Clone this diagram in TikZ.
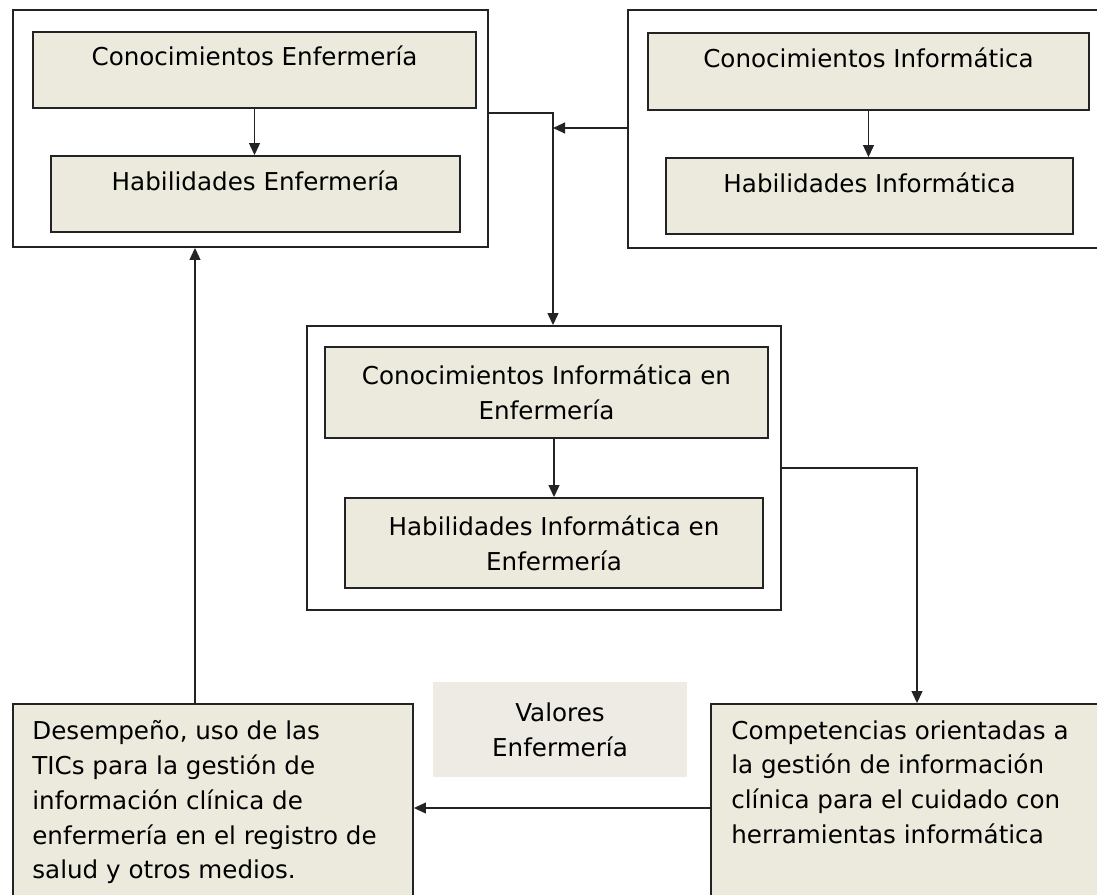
\documentclass[tikz,border=0pt]{standalone}
\usepackage{fontspec}
\setmainfont{DejaVu Sans}
\usepackage{xcolor}
\usepackage{tikz}
\usetikzlibrary{arrows.meta, positioning, calc}
\definecolor{boxfill}{RGB}{236,234,220}
\definecolor{valfill}{RGB}{237,235,227}
\definecolor{edge}{RGB}{35,35,35}

\begin{document}
\begin{tikzpicture}[
    outer/.style={rectangle, draw=edge, line width=1.3pt, fill=white},
    inbox/.style={rectangle, draw=edge, line width=1.3pt, fill=boxfill, align=center, font=\fontsize{17.5}{24.8}\selectfont},
    onerow/.style={inbox, text height=0.47cm, text depth=0.67cm},
    bigbox/.style={rectangle, draw=edge, line width=1.3pt, fill=boxfill, minimum width=#1, minimum height=5.2cm},
    boxtext/.style={anchor=north west, inner sep=0pt, align=left, font=\fontsize{17.5}{24.8}\selectfont},
    arrow/.style={-{Triangle[length=0.3cm, width=0.27cm]}, draw=edge, line width=1.2pt}
]
\useasboundingbox (0,0) rectangle (27.425,-22.375);
\fill[white] (0,0) rectangle (27.425,-22.375);
\clip (0,0) rectangle (27.425,-22.375);

% Enfermeria
\node[outer, minimum width=11.875cm, minimum height=5.925cm] (outA) at (6.2625,-3.2125) {};
\node[onerow, minimum width=11.075cm, minimum height=1.9cm] (ce) at (6.3625,-1.75) {Conocimientos Enfermería};
\node[onerow, minimum width=10.225cm, minimum height=1.9cm] (he) at (6.3875,-4.85) {Habilidades Enfermería};

% Informatica
\node[outer, minimum width=11.8cm, minimum height=5.95cm] (outB) at (21.6,-3.225) {};
\node[onerow, minimum width=11.025cm, minimum height=1.925cm] (ci) at (21.7125,-1.7875) {Conocimientos Informática};
\node[onerow, minimum width=10.175cm, minimum height=1.9cm] (hi) at (21.7375,-4.9) {Habilidades Informática};

% Informatica en Enfermeria
\node[outer, minimum width=11.85cm, minimum height=7.1cm] (outC) at (13.6,-11.7) {};
\node[inbox, minimum width=11.075cm, minimum height=2.275cm] (cie) at (13.6625,-9.8125) {Conocimientos Informática en\\Enfermería};
\node[inbox, minimum width=10.45cm, minimum height=2.25cm] (hie) at (13.85,-13.575) {Habilidades Informática en\\Enfermería};

% Valores
\node[rectangle, fill=valfill, minimum width=6.35cm, minimum height=2.375cm, align=center, font=\fontsize{17.5}{24.8}\selectfont] (val) at (14.0,-18.2375) {Valores\\Enfermería};

% Desempeno y competencias
\node[bigbox=10cm] (desemp) at (5.325,-20.2) {};
\node[boxtext] (desemptext) at ([shift={(0.5,-0.425)}]desemp.north west) {Desempeño, uso de las\\TICs para la gestión de\\información clínica de\\enfermería en el registro de\\salud y otros medios.};
\node[bigbox=10.3cm] (comp) at (22.925,-20.2) {};
\node[boxtext] (comptext) at ([shift={(0.525,-0.425)}]comp.north west) {Competencias orientadas a\\la gestión de información\\clínica para el cuidado con\\herramientas informática};

\coordinate (jn) at (13.825,-3.2);

% Connections
\draw[arrow] (ce.south) -- (ce.south |- he.north);
\draw[arrow] (ci.south) -- (ci.south |- hi.north);
\draw[arrow] (hie.north |- cie.south) -- (hie.north);
\draw[arrow] (outB.west |- jn) -- (jn);
\draw[arrow] ([yshift=0.39cm]outA.east) -| (jn |- outC.north);
\draw[arrow] (outC.east) -| (comp.north);
\draw[arrow] (comp.west) -- (desemp.east);
\draw[arrow] ([xshift=-0.45cm]desemp.north) -- ([xshift=-0.45cm]desemp.north |- outA.south);

\end{tikzpicture}
\end{document}
